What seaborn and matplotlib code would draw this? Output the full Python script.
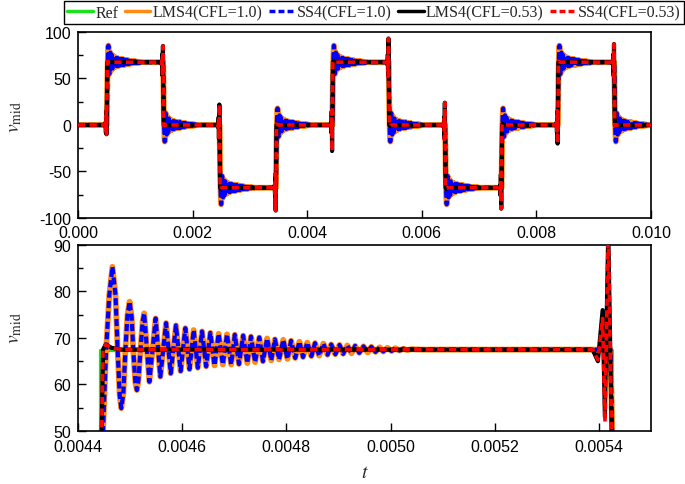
import numpy as np
import matplotlib
matplotlib.use("Agg")
import matplotlib.pyplot as plt
import seaborn as sns
from matplotlib.ticker import MultipleLocator, FormatStrFormatter
from matplotlib.lines import Line2D

# reference square wave: switch times and the levels in between
switch_t = [0.000506, 0.001490, 0.002474, 0.003458, 0.004442,
            0.005426, 0.006410, 0.007394, 0.008378, 0.009362]
levels = [0.0, 67.5, 0.0, -67.5, 0.0, 67.5, 0.0, -67.5, 0.0, 67.5, 0.0]
t_end = 0.0100

# CFL=1.0 ringing (jump 0 -> 67.5 at t=0.004442)
ring_step = 0.004442
ring_t = [0.004438, 0.004448, 0.004454, 0.004460, 0.004466, 0.004472, 0.004476,
          0.004480, 0.004483, 0.004487, 0.004491, 0.004495, 0.004499, 0.004503,
          0.004506, 0.004510, 0.004513, 0.004516, 0.004520, 0.004524, 0.004527,
          0.004537, 0.004549, 0.004558, 0.004569, 0.004578, 0.004588, 0.004597,
          0.004606, 0.004614, 0.004622, 0.004630, 0.004638, 0.004646, 0.004654,
          0.004662, 0.004670, 0.004678, 0.004686, 0.004694, 0.004701, 0.004709,
          0.004717, 0.004725, 0.004732, 0.004740, 0.004748, 0.004755, 0.004763,
          0.004771, 0.004778, 0.004786, 0.004794, 0.004802, 0.004809, 0.004817,
          0.004825, 0.004832, 0.004840, 0.004848, 0.004855, 0.004863, 0.004871,
          0.004879, 0.004886, 0.004894, 0.004902, 0.004909, 0.004917, 0.004925,
          0.004932, 0.004940, 0.004948, 0.004956, 0.004963, 0.004971, 0.004979,
          0.004986, 0.004994, 0.005002, 0.005009, 0.005017, 0.005025, 0.005032,
          0.005040, 0.005060]
ring_v = [0.0, 50.0, 67.5, 79.2, 85.3, 79.2, 67.5,
          57.7, 54.9, 58.0, 67.5, 75.0, 77.8, 74.5,
          67.5, 60.5, 58.8, 61.0, 67.5, 73.5, 75.3,
          60.6, 74.2, 61.7, 73.2, 62.4, 72.7, 62.9,
          72.1, 63.3, 71.7, 63.6, 71.4, 63.9, 71.1,
          64.1, 70.9, 64.3, 70.8, 64.3, 70.7, 64.4,
          70.5, 64.6, 70.3, 64.8, 70.1, 65.0, 69.9,
          65.2, 69.7, 65.4, 69.6, 65.5, 69.4, 65.7,
          69.2, 65.9, 69.0, 66.1, 68.9, 66.2, 68.8,
          66.4, 68.6, 66.5, 68.5, 66.6, 68.4, 66.7,
          68.3, 66.8, 68.2, 66.9, 68.1, 67.0, 68.0,
          67.1, 67.9, 67.2, 67.8, 67.3, 67.7, 67.4,
          67.6, 67.5]

# CFL=0.53 wiggle, read near the drop 67.5 -> 0 at t=0.005426
wig_step = 0.005426
wig_t = [0.0053879, 0.0053980, 0.0054071, 0.0054115, 0.0054179,
         0.0054320, 0.0054370, 0.0054480, 0.0054680]
wig_v_lms = [67.5, 65.0, 76.0, 53.0, None, 0.0, -1.1, -0.4, 0.0]
wig_v_ss = [67.5, 65.3, 74.2, 52.0, None, 0.0, -1.1, -0.4, 0.0]
# biggest spike before each jump, upper panel
spike_v = [-10, 85, 22, -92, -28, 93, 24, -90, -20, 87]


def build(dt, frac_for_step):
    t, v = [0.0], [levels[0]]
    for i, ts in enumerate(switch_t):
        a, b = levels[i], levels[i + 1]
        for d, f in zip(dt, frac_for_step(i)):
            t.append(ts + d)
            v.append(a + (b - a) * f)
    t.append(t_end)
    v.append(levels[-1])
    return np.array(t), np.array(v)


ring_dt = np.array(ring_t) - ring_step
ring_frac = np.array(ring_v) / 67.5
t_ring, v_ring = build(ring_dt, lambda i: ring_frac)

wig_dt = np.array(wig_t) - wig_step


def wig_frac(vals):
    def f(i):
        a, b = levels[i], levels[i + 1]
        return [(67.5 - x) / 67.5 if x is not None else (spike_v[i] - a) / (b - a)
                for x in vals]
    return f


t_lms, v_lms = build(wig_dt, wig_frac(wig_v_lms))
t_ss, v_ss = build(wig_dt, wig_frac(wig_v_ss))

t_ref = [0.0]
v_ref = [levels[0]]
for i, ts in enumerate(switch_t):
    t_ref += [ts, ts]
    v_ref += [levels[i], levels[i + 1]]
t_ref.append(t_end)
v_ref.append(levels[-1])

sns.set_style("ticks")
plt.rcParams['font.family'] = ['Liberation Sans', 'DejaVu Sans']
plt.rcParams['mathtext.fontset'] = 'stix'
plt.rcParams['axes.unicode_minus'] = False

c_ref = '#1ee01e'
c_lms1 = '#ff8a14'
c_ss1 = '#0000ff'
c_lms2 = '#000000'
c_ss2 = '#ff0000'

fig = plt.figure(figsize=(6.85, 4.85), dpi=100)
ax1 = fig.add_axes([0.1139, 0.5485, 0.8365, 0.3835])
ax2 = fig.add_axes([0.1139, 0.1093, 0.8365, 0.3835])

for ax in (ax1, ax2):
    kw = dict(ax=ax, estimator=None, sort=False, legend=False)
    sns.lineplot(x=t_ref, y=v_ref, color=c_ref, lw=2.3, zorder=1, **kw)
    sns.lineplot(x=t_ring, y=v_ring, color=c_lms1, lw=4.2, zorder=2, **kw)
    sns.lineplot(x=t_ring, y=v_ring, color=c_ss1, lw=3.0, zorder=3,
                 linestyle=(0, (1.7, 0.8)), **kw)
    sns.lineplot(x=t_lms, y=v_lms, color=c_lms2, lw=3.0, zorder=4, **kw)
    sns.lineplot(x=t_ss, y=v_ss, color=c_ss2, lw=2.6, zorder=5,
                 linestyle=(0, (2.0, 1.2)), **kw)
    ax.set_xlabel('')
    ax.set_ylabel(r'$v_{\mathrm{mid}}$', fontsize=14)
    for s in ax.spines.values():
        s.set_visible(True)
        s.set_linewidth(1.2)
        s.set_color('black')
    ax.tick_params(which='both', direction='in', top=False, right=False,
                   labelsize=11.5, colors='black', width=1.0)
    ax.tick_params(which='major', length=6, pad=5)
    ax.tick_params(which='minor', length=3.5)

ax1.set_xlim(0.0, 0.010)
ax1.set_ylim(-100, 100)
ax1.xaxis.set_major_locator(MultipleLocator(0.002))
ax1.xaxis.set_major_formatter(FormatStrFormatter('%.3f'))
ax1.yaxis.set_major_locator(MultipleLocator(50))
ax1.yaxis.set_minor_locator(MultipleLocator(25))
ax1.yaxis.set_label_coords(-0.095, 0.55)

ax2.set_xlim(0.0044, 0.0055)
ax2.set_ylim(50, 90)
ax2.xaxis.set_major_locator(MultipleLocator(0.0002))
ax2.xaxis.set_major_formatter(FormatStrFormatter('%.4f'))
ax2.yaxis.set_major_locator(MultipleLocator(10))
ax2.yaxis.set_minor_locator(MultipleLocator(5))
ax2.yaxis.set_label_coords(-0.095, 0.56)
ax2.tick_params(axis='x', which='major', pad=6)
ax2.set_xlabel(r'$t$', fontsize=14, labelpad=7)

handles = [
    Line2D([], [], color=c_ref, lw=2.5),
    Line2D([], [], color=c_lms1, lw=2.5),
    Line2D([], [], color=c_ss1, lw=2.5, linestyle=(0, (1.7, 0.9))),
    Line2D([], [], color=c_lms2, lw=2.5),
    Line2D([], [], color=c_ss2, lw=2.5, linestyle=(0, (1.7, 0.9))),
]
names = ['Ref', 'LMS4(CFL=1.0)', 'SS4(CFL=1.0)', 'LMS4(CFL=0.53)', 'SS4(CFL=0.53)']
leg = fig.legend(handles, names, loc='upper center', bbox_to_anchor=(374 / 685, 1 - 2 / 485),
                 ncol=5, frameon=True, fancybox=False, framealpha=1, edgecolor='black',
                 borderpad=0.22, handlelength=1.6, handletextpad=0.15, columnspacing=0.4,
                 borderaxespad=0, prop={'family': 'Liberation Serif', 'size': 11.5})
leg.get_frame().set_linewidth(1.0)

fig.savefig('out.png', dpi=100)
